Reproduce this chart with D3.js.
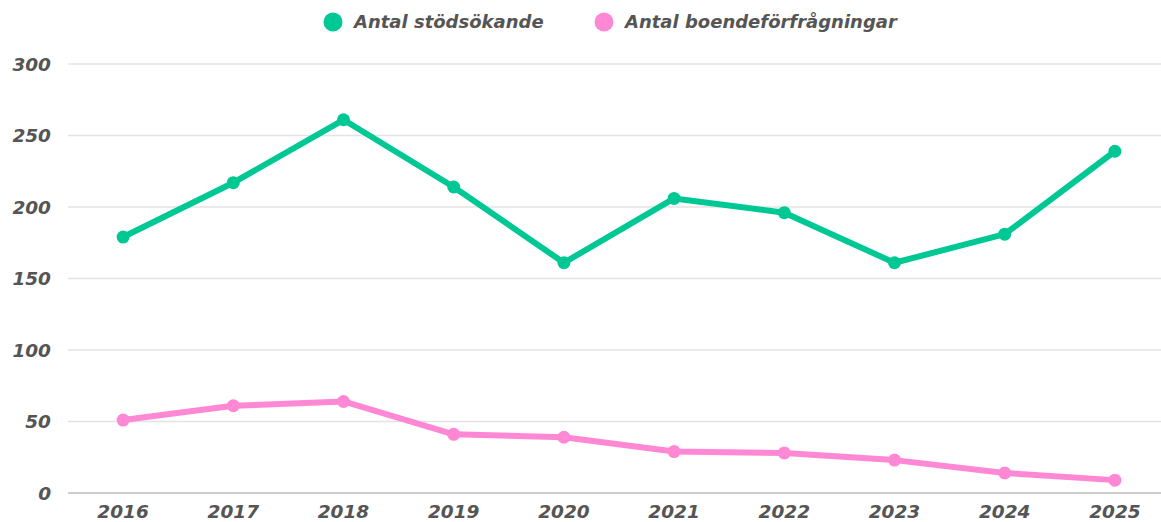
<!DOCTYPE html>
<html>
<head>
<meta charset="utf-8">
<script src="https://cdn.jsdelivr.net/npm/d3@7"></script>
<style>
  body { margin: 0; background: #fff; }
  svg text { font-family: "DejaVu Sans", Lato, sans-serif; font-weight: bold; font-style: italic; fill: #555; }
</style>
</head>
<body>
<div id="chart"></div>
<script>
// data
const years = ['2016', '2017', '2018', '2019', '2020', '2021', '2022', '2023', '2024', '2025']
const stodsokande = [179, 217, 261, 214, 161, 206, 196, 161, 181, 239]
const forfragningar = [51, 61, 64, 41, 39, 29, 28, 23, 14, 9]
const yTicks = [0, 50, 100, 150, 200, 250, 300]

const series = [
  { name: 'Antal stödsökande', values: stodsokande, color: '#00c894' },
  { name: 'Antal boendeförfrågningar', values: forfragningar, color: '#ff88d5' }
]

const width = 1161
const height = 522
const margin = { top: 64, right: -9, bottom: 29, left: 68 }

const svg = d3.select('#chart')
  .append('svg')
  .attr('width', width)
  .attr('height', height)

const x = d3.scalePoint()
  .domain(years)
  .range([margin.left, width - margin.right])
  .padding(0.5)

const y = d3.scaleLinear()
  .domain([0, 300])
  .range([height - margin.bottom, margin.top])

// gridlines
svg.append('g')
  .selectAll('line')
  .data(yTicks)
  .join('line')
  .attr('x1', margin.left)
  .attr('x2', width)
  .attr('y1', d => y(d))
  .attr('y2', d => y(d))
  .attr('stroke', d => d === 0 ? '#bdbdbd' : '#e3e3e3')
  .attr('stroke-width', 1.5)

// y labels
svg.append('g')
  .selectAll('text')
  .data(yTicks)
  .join('text')
  .attr('x', 51)
  .attr('y', d => y(d))
  .attr('dy', '0.36em')
  .attr('text-anchor', 'end')
  .style('font-size', '18.5px')
  .text(d => d)

// x labels
svg.append('g')
  .selectAll('text')
  .data(years)
  .join('text')
  .attr('x', d => x(d))
  .attr('y', 518)
  .attr('text-anchor', 'middle')
  .style('font-size', '18.5px')
  .text(d => d)

const line = d3.line()
  .x((d, i) => x(years[i]))
  .y(d => y(d))

series.forEach(s => {
  const g = svg.append('g')
  g.append('path')
    .datum(s.values)
    .attr('d', line)
    .attr('fill', 'none')
    .attr('stroke', s.color)
    .attr('stroke-width', 6)
    .attr('stroke-linejoin', 'round')
  g.selectAll('circle')
    .data(s.values)
    .join('circle')
    .attr('cx', (d, i) => x(years[i]))
    .attr('cy', d => y(d))
    .attr('r', 6.5)
    .attr('fill', s.color)
})

// legend
const legendPos = [333, 604]
const legend = svg.append('g')
  .selectAll('g')
  .data(series)
  .join('g')
  .attr('transform', (d, i) => `translate(${legendPos[i]},22)`)
legend.append('circle')
  .attr('r', 9.5)
  .attr('fill', d => d.color)
legend.append('text')
  .attr('x', 21)
  .attr('dy', '0.36em')
  .style('font-size', '18px')
  .text(d => d.name)
</script>
</body>
</html>
